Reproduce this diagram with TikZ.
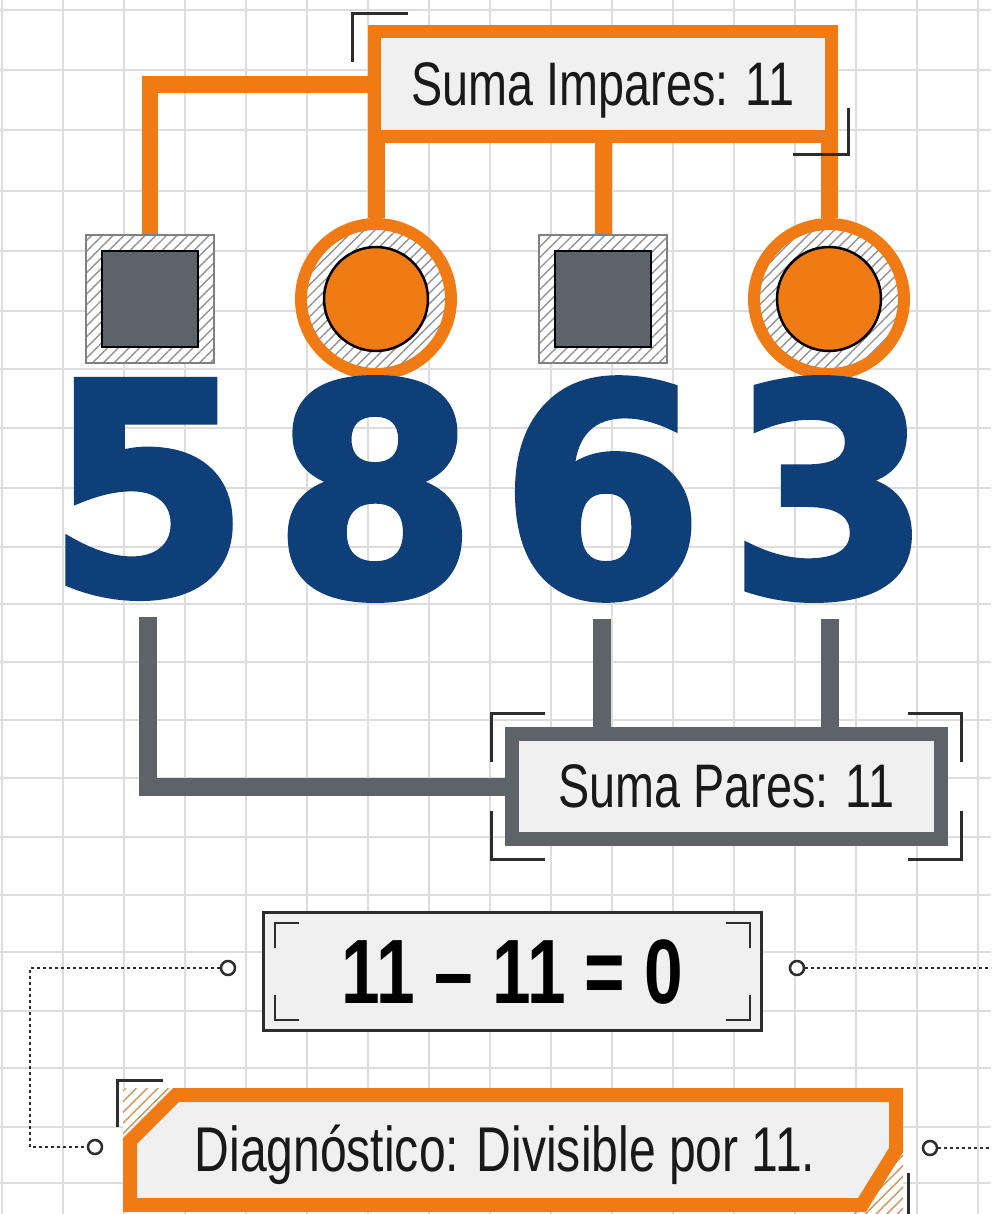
\documentclass[tikz,border=0pt]{standalone}
\usepackage{fontspec}
\newfontfamily\condfont{Liberation Sans}[FakeStretch=0.76]
\newfontfamily\digitfont{DejaVu Sans}[FakeBold=2.5]
\usetikzlibrary{patterns.meta}
\definecolor{qorange}{RGB}{240,122,20}
\definecolor{qnavy}{RGB}{14,63,120}
\definecolor{qgray}{RGB}{93,99,105}
\definecolor{qpaper}{RGB}{240,240,240}
\definecolor{qgrid}{RGB}{221,221,221}
\definecolor{qink}{RGB}{45,45,45}
\definecolor{qtan}{RGB}{205,150,95}

\tikzset{
  hatch/.style={preaction={fill=white},
    preaction={pattern={Lines[angle=45,distance=4.3pt,line width=0.8pt]}, pattern color=#1}},
  hatch/.default=gray!85
}

\begin{document}
\begin{tikzpicture}[x=0.02cm, y=-0.02cm,
  gridl/.style={draw=qgrid, line width=0.04cm},
  oline/.style={draw=qorange, line width=0.34cm},
  gline/.style={draw=qgray, line width=0.36cm},
  brk/.style={draw=qink, line width=0.06cm},
  dotline/.style={draw=qink, line width=0.05cm, dash pattern=on 0.05cm off 0.07cm},
  sumbox/.style={rectangle, line width=0.26cm, fill=qpaper, minimum height=2.1cm,
    inner sep=0, text depth=0pt, text=black!90, font=\condfont\fontsize{35}{40}\selectfont},
  hatchsq/.style={rectangle, draw=gray, line width=0.03cm, hatch, minimum size=2.56cm, inner sep=0},
  sqcore/.style={rectangle, draw=black, line width=0.05cm, fill=qgray, minimum size=1.92cm, inner sep=0},
  hatchc/.style={circle, draw=qorange, line width=0.24cm, hatch, minimum size=3.0cm, inner sep=0},
  corec/.style={circle, draw=black, line width=0.05cm, fill=qorange, minimum size=2.08cm, inner sep=0},
  digit/.style={text=qnavy, inner sep=0, font=\digitfont\bfseries\fontsize{166}{166}\selectfont},
  dotc/.style={circle, draw=qink, line width=0.05cm, fill=white, minimum size=0.28cm, inner sep=0}
]

\clip (0,0) rectangle (991,1214);
\fill[white] (0,0) rectangle (991,1214);

% grid paper
\foreach \gx in {2,63,...,978}
  \draw[gridl] (\gx,0) -- (\gx,1214);
\foreach \gy in {10,70,130,191,251,311,369,428,488,547,604,662,720,778,837,895,952,1011,1068,1127,1183}
  \draw[gridl] (0,\gy) -- (991,\gy);

% markers above the digits
\node[hatchsq] (sq1) at (150,299) {};
\node[sqcore] at (sq1) {};
\node[hatchc] (c1) at (376,299) {};
\node[corec] at (c1) {};
\node[hatchsq] (sq2) at (603,299) {};
\node[sqcore] at (sq2) {};
\node[hatchc] (c2) at (829,299) {};
\node[corec] at (c2) {};

% the number
\foreach \d/\px [count=\i] in {5/148, 8/375, 6/602, 3/830}
  \node[digit] (d\i) at (\px,489) {\d};

% sums
\node[sumbox, draw=qorange, minimum width=9.14cm] (imp) at (603,84) {Suma Impares: 11};
\node[sumbox, draw=qgray, line width=0.28cm, minimum width=8.58cm] (par) at (726.5,786.5) {Suma Pares: 11};

\draw[oline] (imp.west) -| (sq1.north);
\draw[oline] (c1.north) -- (c1.north |- imp.south);
\draw[oline] (sq2.north) -- (sq2.north |- imp.south);
\draw[oline] (c2.north) -- (c2.north |- imp.south);

\draw[gline] ([yshift=-0.38cm]d1.south) |- (par.west);
\draw[gline] ([yshift=-0.38cm]d3.south) -- (par.north -| d3.south);
\draw[gline] ([yshift=-0.38cm]d4.south) -- (par.north -| d4.south);

% corner marks
\draw[brk] ([shift={(40,-12)}]imp.north west) -| ([shift={(-16,37)}]imp.north west);
\draw[brk] ([shift={(-45,12)}]imp.south east) -| ([shift={(11,-35)}]imp.south east);
\foreach \a/\cx/\cy/\hx/\vy in {north west/-14/-14/40/35, north east/14/-14/-40/35,
    south west/-14/14/40/-35, south east/14/14/-40/-35}
  \draw[brk] ([shift={(\hx,\cy)}]par.\a) -| ([shift={(\cx,\vy)}]par.\a);

% difference
\node[rectangle, draw=qink, line width=0.06cm, fill=qpaper, minimum width=9.96cm,
  minimum height=2.36cm, inner sep=0, text depth=0pt,
  font=\condfont\bfseries\fontsize{52}{56}\selectfont] (eq) at (512.5,971.5) {11 – 11 = 0};
\foreach \a/\cx/\cy/\hx/\vy in {north west/13/12/37/37, north east/-13/12/-37/37,
    south west/13/-12/37/-37, south east/-13/-12/-37/-37}
  \draw[brk, line width=0.05cm] ([shift={(\hx,\cy)}]eq.\a) -| ([shift={(\cx,\vy)}]eq.\a);

% verdict
\path[hatch=qtan] (123,1088) -- (180,1088) -- (123,1145) -- cycle;
\path[hatch=qtan] (903,1214) -- (903,1143) -- (852,1214) -- cycle;
\draw[draw=qorange, line width=0.28cm, fill=qpaper]
  (176,1095) -- (896,1095) -- (896,1150) -- (862,1205) -- (130,1205) -- (130,1141) -- cycle;
\node[text depth=0pt, inner sep=0, text=black!90, font=\condfont\fontsize{36}{40}\selectfont]
  (diag) at (505,1148) {Diagnóstico: Divisible por 11.};
\draw[brk] (163,1080) -| (117,1127);
\draw[brk] (908,1173) |- (860,1224);

% loose ends
\node[dotc] (ol1) at (228,968) {};
\node[dotc] (or1) at (797,968) {};
\node[dotc] (ol2) at (95,1147) {};
\node[dotc] (or2) at (930,1148) {};
\coordinate (lb) at (30,1147);
\coordinate (re1) at (995,968);
\coordinate (re2) at (995,1148);
\draw[dotline] (ol1.west) -| (lb) -- (ol2.west);
\draw[dotline] (or1.east) -- (re1);
\draw[dotline] (or2.east) -- (re2);

\end{tikzpicture}
\end{document}
